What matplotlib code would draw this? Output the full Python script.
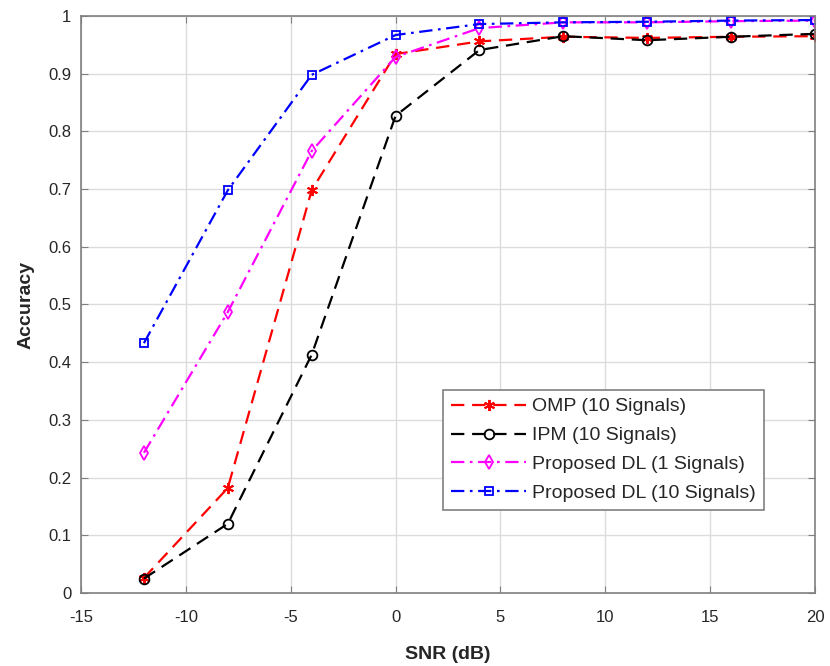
import matplotlib
matplotlib.use("Agg")
import matplotlib.pyplot as plt

plt.rcParams["font.family"] = ["Liberation Sans", "DejaVu Sans"]

snr = [-12, -8, -4, 0, 4, 8, 12, 16, 20]
omp = [0.026, 0.182, 0.698, 0.934, 0.956, 0.964, 0.962, 0.964, 0.965]
ipm = [0.025, 0.120, 0.413, 0.827, 0.941, 0.965, 0.958, 0.964, 0.969]
dl_one = [0.243, 0.487, 0.766, 0.929, 0.979, 0.989, 0.989, 0.991, 0.992]
dl_ten = [0.433, 0.698, 0.898, 0.967, 0.986, 0.989, 0.990, 0.992, 0.993]

labels = ["OMP (10 Signals)", "IPM (10 Signals)",
          "Proposed DL (1 Signals)", "Proposed DL (10 Signals)"]
x_ticks = [-15, -10, -5, 0, 5, 10, 15, 20]
y_ticks = [0, 0.1, 0.2, 0.3, 0.4, 0.5, 0.6, 0.7, 0.8, 0.9, 1]

fig = plt.figure(figsize=(8.3, 6.66), dpi=100)
ax = fig.add_axes([0.0976, 0.1096, 0.8843, 0.8664])

lw = 1.6
dash = (0, (6, 3.5))
dashdot = (0, (6, 2.5, 1.2, 2.5))
ax.plot(snr, omp, color="red", linestyle=dash, marker=(6, 2, 0), markersize=8,
        markeredgewidth=1.4, lw=lw, label=labels[0])
ax.plot(snr, ipm, color="black", linestyle=dash, marker="o", markersize=7,
        markerfacecolor="none", markeredgewidth=1.3, lw=lw, label=labels[1])
ax.plot(snr, dl_one, color="magenta", linestyle=dashdot, marker="d",
        markersize=7, markerfacecolor="none", markeredgewidth=1.3, lw=lw, label=labels[2])
ax.plot(snr, dl_ten, color="blue", linestyle=dashdot, marker="s",
        markersize=6, markerfacecolor="none", markeredgewidth=1.3, lw=lw, label=labels[3])

ax.set_xlim(-15, 20)
ax.set_ylim(0, 1)
ax.set_xticks(x_ticks)
ax.set_xticklabels([str(v) for v in x_ticks])
ax.set_yticks(y_ticks)
ax.set_yticklabels(["0"] + [f"{v:g}" for v in y_ticks[1:]])
ax.grid(True, color="#dcdcdc", linewidth=1.0)
ax.set_axisbelow(True)
for s in ax.spines.values():
    s.set_color("#808080")
    s.set_linewidth(1.2)
ax.tick_params(direction="in", top=True, right=True, length=5, color="#808080",
               labelsize=12, labelcolor="#262626")
ax.tick_params(axis="x", pad=12)
ax.tick_params(axis="y", pad=7)

ax.set_xlabel("SNR (dB)", fontsize=14, fontweight="bold", color="#262626", labelpad=15)
ax.set_ylabel("Accuracy", fontsize=14, fontweight="bold", color="#262626", labelpad=10)

leg = ax.legend(loc="lower left", bbox_to_anchor=(0.493, 0.144), borderaxespad=0,
                fontsize=14, handlelength=3.9, handletextpad=0.3, borderpad=0.4,
                labelspacing=0.58, fancybox=False, framealpha=1, edgecolor="#808080")
leg.get_frame().set_linewidth(1.2)
for t in leg.get_texts():
    t.set_color("#262626")

fig.savefig("out.png", dpi=100)
